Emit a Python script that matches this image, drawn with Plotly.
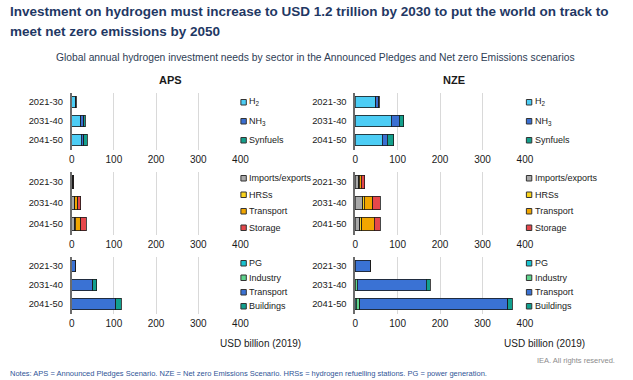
import plotly.graph_objects as go

# ---------------- data ----------------
categories = ["2021-30", "2031-40", "2041-50"]
tick_values = [0, 100, 200, 300, 400]

fuel_names = ["H<sub>2</sub>", "NH<sub>3</sub>", "Synfuels"]
fuel_colors = ["#4ccdf5", "#3a6fd2", "#14a08c"]
aps_h2 = [8, 22, 23]
aps_nh3 = [2, 7, 6]
aps_synfuels = [1, 3, 8]
nze_h2 = [48, 85, 64]
nze_nh3 = [8, 19, 12]
nze_synfuels = [1, 11, 15]

infra_names = ["Imports/exports", "HRSs", "Transport", "Storage"]
infra_colors = ["#a9a9a9", "#f9d31c", "#f2a600", "#e6474b"]
aps_imports = [2, 6, 7]
aps_hrs = [0.5, 1, 1]
aps_transport_infra = [1, 7, 14]
aps_storage = [1.5, 7, 12]
nze_imports = [8, 18, 11]
nze_hrs = [2, 3, 4]
nze_transport_infra = [4, 20, 30]
nze_storage = [9, 18, 14]

end_names = ["PG", "Industry", "Transport", "Buildings"]
end_colors = ["#19c3d0", "#5fd48c", "#3a72d4", "#12a08f"]
aps_pg = [0, 0, 0]
aps_industry = [0, 0, 0]
aps_transport_end = [8, 50, 105]
aps_buildings = [0, 10, 12]
nze_pg = [0, 0, 2]
nze_industry = [0, 5, 9]
nze_transport_end = [35, 162, 349]
nze_buildings = [0, 10, 10]

# ---------------- layout helpers ----------------
W, H = 633, 380
def fx(px):
    return px / W
def fy(py):
    return 1 - py / H

col_x = [(70, 242), (359, 532)]             # pixel extents of panels
row_y = [(92.5, 149.5), (171.5, 234.5), (256.5, 313.5)]
legend_x = [245, 536]
legend_rows_y = [[102, 121, 140], [178, 194.5, 211, 227.5], [263, 277.5, 292, 306]]

panels = [
    (0, 0, fuel_names, fuel_colors, [aps_h2, aps_nh3, aps_synfuels]),
    (0, 1, fuel_names, fuel_colors, [nze_h2, nze_nh3, nze_synfuels]),
    (1, 0, infra_names, infra_colors, [aps_imports, aps_hrs, aps_transport_infra, aps_storage]),
    (1, 1, infra_names, infra_colors, [nze_imports, nze_hrs, nze_transport_infra, nze_storage]),
    (2, 0, end_names, end_colors, [aps_pg, aps_industry, aps_transport_end, aps_buildings]),
    (2, 1, end_names, end_colors, [nze_pg, nze_industry, nze_transport_end, nze_buildings]),
]

FONT = "Liberation Sans, Arial, sans-serif"
fig = go.Figure()
layout = dict(
    width=W, height=H,
    margin=dict(l=0, r=0, t=0, b=0),
    paper_bgcolor="white", plot_bgcolor="white",
    barmode="stack", bargap=0.38,
    showlegend=False,
    font=dict(family=FONT, size=10, color="#1a1a1a"),
)
shapes = []
annotations = []

for i, (r, c, names, colors, series) in enumerate(panels, start=1):
    xa = "x" if i == 1 else f"x{i}"
    ya = "y" if i == 1 else f"y{i}"
    for name, color, vals in zip(names, colors, series):
        fig.add_trace(go.Bar(
            x=vals, y=categories, orientation="h", name=name,
            xaxis=xa, yaxis=ya,
            marker=dict(color=color, line=dict(color="#1a1a1a", width=0.8)),
        ))
    x0, x1 = col_x[c]
    y0, y1 = row_y[r]
    layout["xaxis" if i == 1 else f"xaxis{i}"] = dict(
        domain=[fx(x0), fx(x1)], range=[0, 400], tickvals=tick_values,
        showgrid=True, gridcolor="#d9d9d9", gridwidth=1, zeroline=False,
        showline=False, ticks="", anchor=ya, ticklabelstandoff=2,
        tickfont=dict(size=10, color="#1a1a1a"), fixedrange=True,
    )
    layout["yaxis" if i == 1 else f"yaxis{i}"] = dict(
        domain=[fy(y1), fy(y0)], type="category",
        categoryorder="array", categoryarray=categories, autorange="reversed",
        showline=True, linecolor="#6b6b6b", linewidth=1.5, showgrid=False,
        ticks="", anchor=xa, ticklabelstandoff=5,
        tickfont=dict(size=9.4, color="#1a1a1a"), fixedrange=True,
    )
    # legend (symbol squares + labels)
    lx = legend_x[c]
    for name, color, ly in zip(names, colors, legend_rows_y[r]):
        shapes.append(dict(
            type="rect", xref="paper", yref="paper",
            x0=fx(lx - 2.5), x1=fx(lx + 3), y0=fy(ly + 3), y1=fy(ly - 2.5),
            fillcolor=color, line=dict(color="#333333", width=1),
        ))
        annotations.append(dict(
            text=name, xref="paper", yref="paper", x=fx(lx + 4), y=fy(ly),
            xanchor="left", yanchor="middle", showarrow=False,
            font=dict(size=9, color="#1a1a1a"),
        ))

# titles and texts
annotations += [
    dict(text="<b>Investment on hydrogen must increase to USD 1.2 trillion by 2030 to put the world on track to</b>",
         x=fx(5), y=fy(12), xanchor="left", yanchor="middle", font=dict(size=13.5, color="#1f3864")),
    dict(text="<b>meet net zero emissions by 2050</b>",
         x=fx(5), y=fy(31), xanchor="left", yanchor="middle", font=dict(size=13.5, color="#1f3864")),
    dict(text="Global annual hydrogen investment needs by sector in the Announced Pledges and Net zero Emissions scenarios",
         x=fx(319), y=fy(57), xanchor="center", yanchor="middle", font=dict(size=10.3, color="#2e3d55")),
    dict(text="<b>APS</b>", x=fx(171), y=fy(80), xanchor="center", yanchor="middle",
         font=dict(size=11, color="#1a1a1a")),
    dict(text="<b>NZE</b>", x=fx(460), y=fy(80), xanchor="center", yanchor="middle",
         font=dict(size=11, color="#1a1a1a")),
    dict(text="USD billion (2019)", x=fx(262), y=fy(343), xanchor="center", yanchor="middle",
         font=dict(size=10, color="#1a1a1a")),
    dict(text="USD billion (2019)", x=fx(552), y=fy(343), xanchor="center", yanchor="middle",
         font=dict(size=10, color="#1a1a1a")),
    dict(text="IEA. All rights reserved.", x=fx(626), y=fy(360), xanchor="right", yanchor="middle",
         font=dict(size=7.5, color="#8c8c8c")),
    dict(text="Notes: APS = Announced Pledges Scenario. NZE = Net zero Emissions Scenario. HRSs = hydrogen refuelling stations. PG = power generation.",
         x=fx(5), y=fy(373), xanchor="left", yanchor="middle", font=dict(size=7.5, color="#2f5597")),
]
for a in annotations:
    a.setdefault("xref", "paper")
    a.setdefault("yref", "paper")
    a.setdefault("showarrow", False)

layout["shapes"] = shapes
layout["annotations"] = annotations
fig.update_layout(**layout)
fig.write_html(
    "out.html",
    config={"displayModeBar": False},
    post_script="document.body.style.margin='0';document.body.style.overflow='hidden';",
)
